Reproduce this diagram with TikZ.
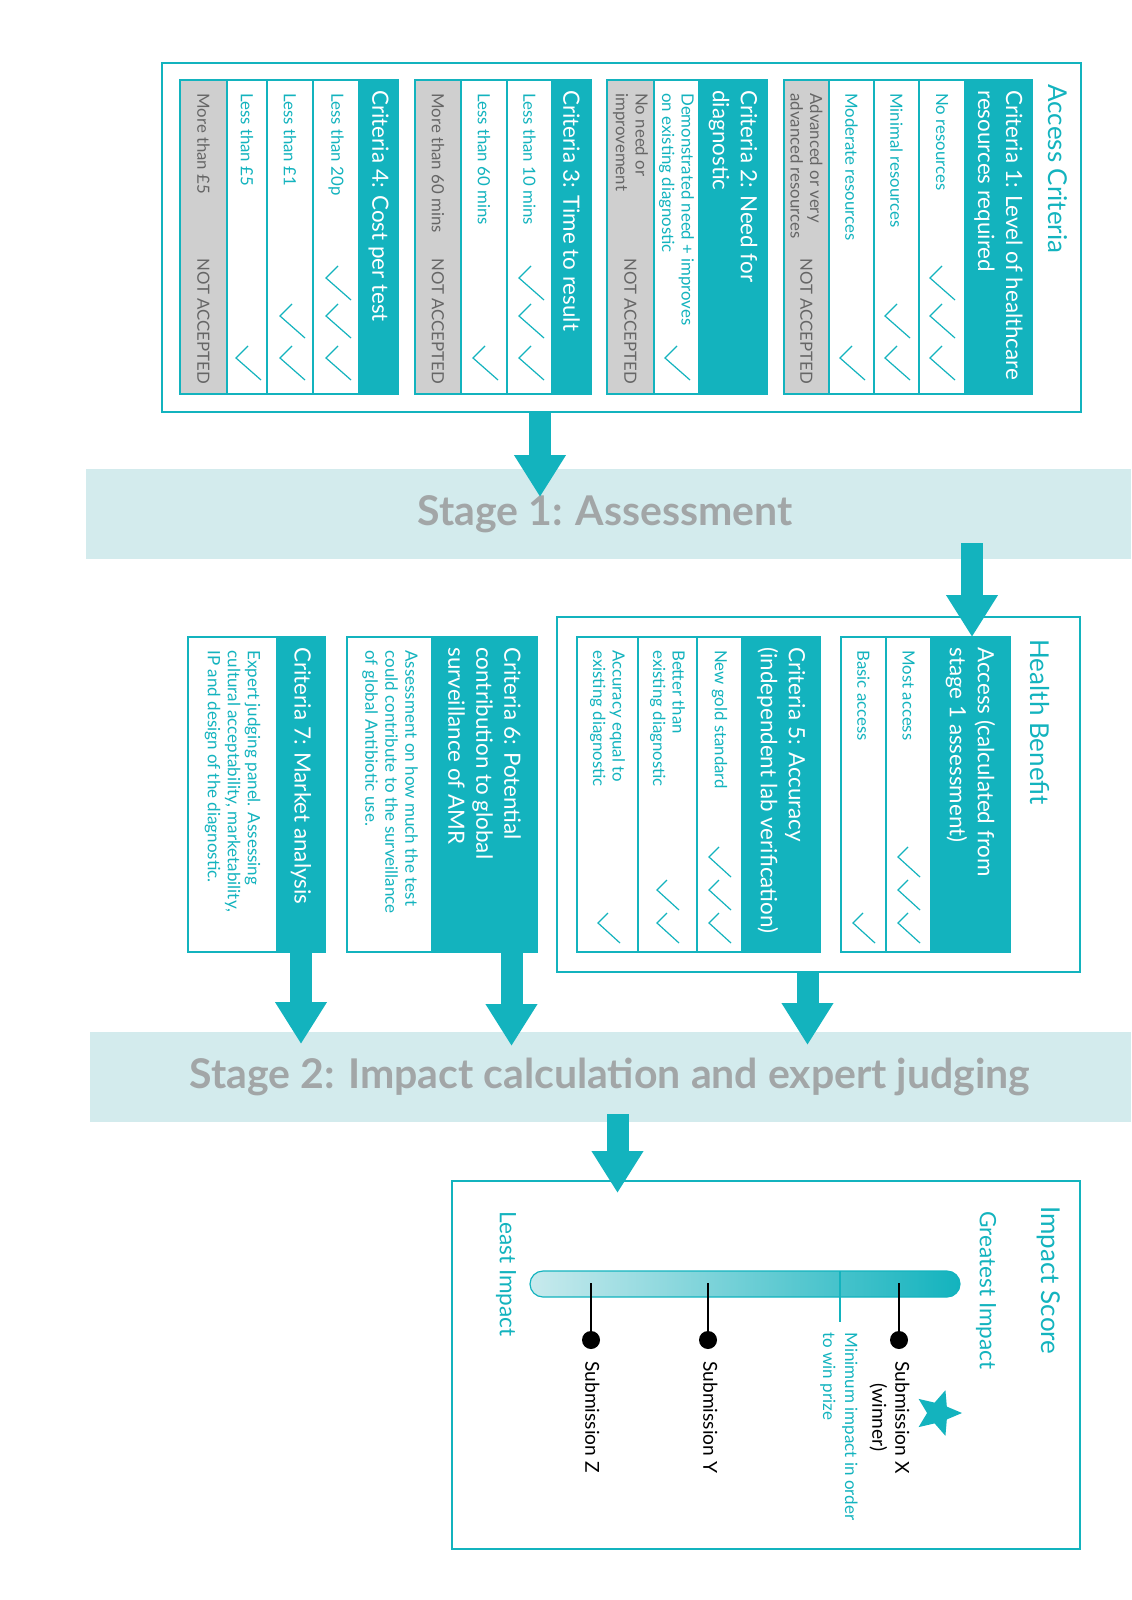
\documentclass[tikz,border=0pt]{standalone}
\usepackage{fontspec}
\setmainfont{Lato}
\usetikzlibrary{arrows.meta,fit,shapes.geometric}
\definecolor{teal1}{HTML}{13B3BE}
\definecolor{bannerc}{HTML}{D3EBED}
\definecolor{greyc}{HTML}{CFCFCF}
\definecolor{greyt}{HTML}{666666}
\definecolor{stagec}{HTML}{A2A6A7}
\definecolor{barl}{HTML}{C8EAED}
\newcommand\tk[2]{\draw[tick] (#1+12,#2-12) -- (#1,#2) -- (#1+25,#2+22);}
\newcommand\tks[2]{\draw[tick] (#1+10,#2-10) -- (#1,#2) -- (#1+22,#2+20);}
\begin{document}
\begin{tikzpicture}[x=0.5pt,y=-0.5pt,
  frame/.style={draw=teal1,line width=0.8pt,inner sep=0},
  cell/.style={draw=teal1,line width=0.75pt,inner sep=0,fill=white},
  hcell/.style={cell,fill=teal1},
  gcell/.style={cell,fill=greyc},
  banner/.style={fill=bannerc,draw=none,inner sep=0},
  tick/.style={draw=teal1,line width=0.6pt},
  rt/.style={rotate=-90,anchor=west,inner sep=0,align=left,text=teal1,font=\fontsize{8.4}{9.8}\selectfont},
  gt/.style={rt,text=greyt},
  ht/.style={rotate=-90,anchor=west,inner sep=0,align=left,text=white,font=\fontsize{11.2}{14}\selectfont},
  dt/.style={rt,font=\fontsize{8.5}{10}\selectfont},
  tt/.style={rotate=-90,anchor=west,inner sep=0,text=teal1,font=\fontsize{13}{15}\selectfont},
  st/.style={text=stagec,font=\fontsize{20.5}{24}\selectfont\bfseries},
  arr/.style={draw=teal1,line width=11pt,-{Triangle[width=24.5pt,length=21pt]}},
  sub/.style={rotate=-90,anchor=north west,inner sep=0,align=center,font=\fontsize{9.6}{11.5}\selectfont}
]
\path[use as bounding box] (0,0) rectangle (1131,1600);

% banners
\node[banner,fit={(86,469) (1131,559)}] (s1) {};
\node[st] (s1t) at (605,514) {Stage 1: Assessment};
\node[banner,fit={(90,1032) (1131,1122)}] (s2) {};
\node[st] (s2t) at (610,1077) {Stage 2: Impact calculation and expert judging};

% Access criteria
\node[frame,fit={(162,63) (1081,412)}] (acc) {};
\node[tt] (acct) at (1058,84) {Access Criteria};
% C1
\node[gcell,fit={(784,80) (829,394)}] (c1d) {};
\node[cell,fit={(829,80) (874,394)}] (c1c) {};
\node[cell,fit={(874,80) (919,394)}] (c1b) {};
\node[cell,fit={(919,80) (965,394)}] (c1a) {};
\node[hcell,fit={(965,80) (1032,394)}] (c1h) {};
\node[ht] at (998.5,90) {Criteria 1: Level of healthcare\\resources required};
\node[rt] at (942,93) {No resources};
\node[rt] at (896.5,93) {Minimal resources};
\node[rt] at (851.5,93) {Moderate resources};
\node[gt] at (806.5,93) {Advanced or very\\advanced resources};
\node[gt] at (806.5,258) {NOT ACCEPTED};
\tk{930}{278}\tk{930}{316}\tk{930}{358}
\tk{885}{316}\tk{885}{358}
\tk{840}{358}
% C2
\node[gcell,fit={(607,80) (654,394)}] (c2c) {};
\node[cell,fit={(654,80) (699,394)}] (c2b) {};
\node[hcell,fit={(699,80) (767,394)}] (c2h) {};
\node[ht] at (733,90) {Criteria 2: Need for\\diagnostic};
\node[rt] at (676.5,93) {Demonstrated need + improves\\on existing diagnostic};
\node[gt] at (630.5,93) {No need or\\improvement};
\node[gt] at (630.5,258) {NOT ACCEPTED};
\tk{665}{358}
% C3
\node[gcell,fit={(415,80) (461,394)}] (c3c) {};
\node[cell,fit={(461,80) (507,394)}] (c3b) {};
\node[cell,fit={(507,80) (552,394)}] (c3a) {};
\node[hcell,fit={(552,80) (591,394)}] (c3h) {};
\node[ht] at (571.5,90) {Criteria 3: Time to result};
\node[rt] at (529.5,93) {Less than 10 mins};
\node[rt] at (484,93) {Less than 60 mins};
\node[gt] at (438,93) {More than 60 mins};
\node[gt] at (438,258) {NOT ACCEPTED};
\tk{519}{278}\tk{519}{316}\tk{519}{358}
\tk{473}{358}
% C4
\node[gcell,fit={(180,80) (227,394)}] (c4d) {};
\node[cell,fit={(227,80) (267,394)}] (c4c) {};
\node[cell,fit={(267,80) (313,394)}] (c4b) {};
\node[cell,fit={(313,80) (359,394)}] (c4a) {};
\node[hcell,fit={(359,80) (398,394)}] (c4h) {};
\node[ht] at (378.5,90) {Criteria 4: Cost per test};
\node[rt] at (336,93) {Less than 20p};
\node[rt] at (290,93) {Less than £1};
\node[rt] at (247,93) {Less than £5};
\node[gt] at (203.5,93) {More than £5};
\node[gt] at (203.5,258) {NOT ACCEPTED};
\tk{326}{278}\tk{326}{316}\tk{326}{358}
\tk{280}{316}\tk{280}{358}
\tk{236}{358}

% Health benefit
\node[frame,fit={(557,617) (1080,972)}] (hb) {};
\node[tt] (hbt) at (1040,639) {Health Benefit};
\node[cell,fit={(841,637) (886,952)}] (a2) {};
\node[cell,fit={(886,637) (931,952)}] (a1) {};
\node[hcell,fit={(931,637) (1010,952)}] (ah) {};
\node[ht] at (970.5,647) {Access (calculated from\\stage 1 assessment)};
\node[rt] at (908.5,650) {Most access};
\node[rt] at (863.5,650) {Basic access};
\tks{898}{857}\tks{898}{890}\tks{898}{923}
\tks{853}{923}
\node[cell,fit={(577,637) (638,952)}] (c5c) {};
\node[cell,fit={(638,637) (697,952)}] (c5b) {};
\node[cell,fit={(697,637) (742,952)}] (c5a) {};
\node[hcell,fit={(742,637) (820,952)}] (c5h) {};
\node[ht] at (781,647) {Criteria 5: Accuracy\\(independent lab verification)};
\node[rt] at (719.5,650) {New gold standard};
\node[rt] at (667.5,650) {Better than\\existing diagnostic};
\node[rt] at (607.5,650) {Accuracy equal to\\existing diagnostic};
\tks{709}{857}\tks{709}{890}\tks{709}{923}
\tks{657}{890}\tks{657}{923}
\tks{598}{923}

% C6, C7
\node[cell,fit={(347,637) (432,952)}] (c6a) {};
\node[hcell,fit={(432,637) (537,952)}] (c6h) {};
\node[ht] at (484.5,647) {Criteria 6: Potential\\contribution to global\\surveillance of AMR};
\node[dt] at (390,650) {Assessment on how much the test\\could contribute to the surveillance\\of global Antibiotic use.};
\node[cell,fit={(188,637) (277,952)}] (c7a) {};
\node[hcell,fit={(277,637) (325,952)}] (c7h) {};
\node[ht] at (301,647) {Criteria 7: Market analysis};
\node[dt] at (232.5,650) {Expert judging panel. Assessing\\cultural acceptability, marketability,\\IP and design of the diagnostic.};

% Impact score
\node[frame,fit={(452,1181) (1080,1549)}] (imp) {};
\node[tt] (impt) at (1049,1206) {Impact Score};
\node[tt,font=\fontsize{11.3}{13}\selectfont] (gi) at (986,1211) {Greatest Impact};
\node[tt,font=\fontsize{11.3}{13}\selectfont] (li) at (506,1211) {Least Impact};
\shade[left color=barl,right color=teal1,rounded corners=6.5pt] (530,1271) rectangle (960,1297);
\draw[teal1,line width=0.6pt,rounded corners=6.5pt] (530,1271) rectangle (960,1297);
\coordinate (mtop) at (840,1271);
\coordinate (mbot) at (840,1322);
\draw[teal1,line width=0.6pt] (mtop) -- (mbot);
\node[rotate=-90,anchor=north west,inner sep=0,align=left,text=teal1,font=\fontsize{8.5}{11}\selectfont] (mtxt) at (858,1332) {Minimum impact in order\\to win prize};
\foreach \n/\xx in {x/899,y/708,z/591}{
  \coordinate (\n top) at (\xx,1283);
  \node[circle,fill=black,inner sep=0,minimum size=9pt] (\n dot) at (\xx,1340) {};
  \draw[black,line width=0.6pt] (\n top) -- (\n dot);
}
\node[sub] (xl) at (910,1361) {Submission X\\(winner)};
\node[sub] (yl) at (718,1361) {Submission Y};
\node[sub] (zl) at (600,1361) {Submission Z};
\node[star,star points=5,star point ratio=2.2,fill=teal1,inner sep=0,minimum size=24pt,rotate=-90] (starx) at (938,1413) {};

% arrows
\coordinate (e1) at (540,497);
\coordinate (b1) at (540,412);
\draw[arr] (b1) -- (e1);
\coordinate (b2) at (972,543);
\coordinate (e2) at (972,637);
\draw[arr] (b2) -- (e2);
\coordinate (e7) at (301,1044);
\draw[arr] (c7h.south) -- (e7);
\coordinate (e6) at (511.5,1046);
\coordinate (b6) at (511.5,952);
\draw[arr] (b6) -- (e6);
\coordinate (bh) at (807.5,972);
\coordinate (eh) at (807.5,1045);
\draw[arr] (bh) -- (eh);
\coordinate (bs) at (617.5,1114);
\coordinate (es) at (617.5,1193);
\draw[arr] (bs) -- (es);
\end{tikzpicture}
\end{document}
